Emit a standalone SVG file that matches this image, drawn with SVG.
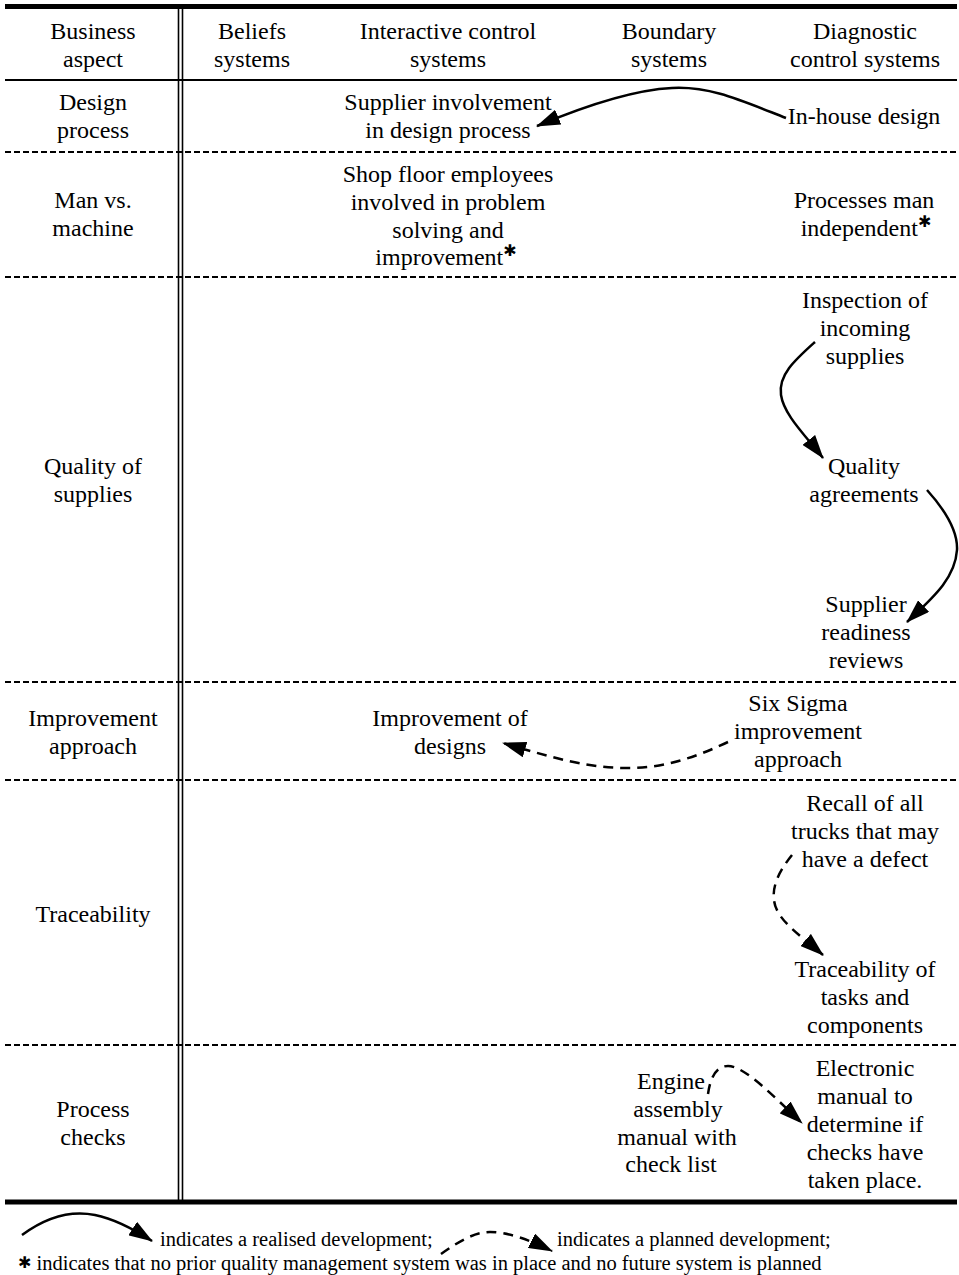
<svg xmlns="http://www.w3.org/2000/svg" width="959" height="1275" viewBox="0 0 959 1275">
  <style>
    .t { font-family: "Liberation Serif", "Times New Roman", serif; font-size: 24px; fill: #000; text-anchor: middle; }
    .f { font-family: "Liberation Serif", "Times New Roman", serif; font-size: 20.5px; fill: #000; }
    .star { font-family: "DejaVu Sans", sans-serif; font-size: 16px; font-weight: bold; }
    .rule { stroke: #000; fill: none; }
    .dash { stroke: #000; stroke-width: 2; stroke-dasharray: 6 3; fill: none; }
    .real { stroke: #000; stroke-width: 2.5; fill: none; marker-end: url(#ah); }
    .plan { stroke: #000; stroke-width: 2.5; fill: none; stroke-dasharray: 10 7; marker-end: url(#ah); }
  </style>
  <defs>
    <marker id="ah" viewBox="0 0 24 16" refX="23" refY="8" markerWidth="24" markerHeight="16" orient="auto" markerUnits="userSpaceOnUse">
      <path d="M0,0 L24,8 L0,16 z" fill="#000"/>
    </marker>
  </defs>

  <rect width="959" height="1275" fill="#fff"/>

  <!-- table rules -->
  <g id="grid">
    <line class="rule" x1="5" y1="6.5" x2="957" y2="6.5" stroke-width="5"/>
    <line class="rule" x1="5" y1="80" x2="957" y2="80" stroke-width="2"/>
    <line class="dash" x1="5" y1="152" x2="957" y2="152"/>
    <line class="dash" x1="5" y1="277" x2="957" y2="277"/>
    <line class="dash" x1="5" y1="682" x2="957" y2="682"/>
    <line class="dash" x1="5" y1="780" x2="957" y2="780"/>
    <line class="dash" x1="5" y1="1045" x2="957" y2="1045"/>
    <line class="rule" x1="178.5" y1="6" x2="178.5" y2="1202" stroke-width="1.6"/>
    <line class="rule" x1="182.5" y1="6" x2="182.5" y2="1202" stroke-width="1.6"/>
    <line class="rule" x1="5" y1="1202" x2="957" y2="1202" stroke-width="5"/>
  </g>

  <!-- column headings -->
  <g id="header">
    <text class="t" x="93" y="39">Business</text>
    <text class="t" x="93" y="67">aspect</text>
    <text class="t" x="252" y="39">Beliefs</text>
    <text class="t" x="252" y="67">systems</text>
    <text class="t" x="448" y="39">Interactive control</text>
    <text class="t" x="448" y="67">systems</text>
    <text class="t" x="669" y="39">Boundary</text>
    <text class="t" x="669" y="67">systems</text>
    <text class="t" x="865" y="39">Diagnostic</text>
    <text class="t" x="865" y="67">control systems</text>
  </g>

  <!-- row labels -->
  <g id="aspects">
    <text class="t" x="93" y="110">Design</text>
    <text class="t" x="93" y="138">process</text>
    <text class="t" x="93" y="208">Man vs.</text>
    <text class="t" x="93" y="236">machine</text>
    <text class="t" x="93" y="474">Quality of</text>
    <text class="t" x="93" y="502">supplies</text>
    <text class="t" x="93" y="726">Improvement</text>
    <text class="t" x="93" y="754">approach</text>
    <text class="t" x="93" y="922">Traceability</text>
    <text class="t" x="93" y="1117">Process</text>
    <text class="t" x="93" y="1145">checks</text>
  </g>

  <!-- design process -->
  <g id="supplier-involvement">
    <text class="t" x="448" y="110">Supplier involvement</text>
    <text class="t" x="448" y="138">in design process</text>
  </g>
  <g id="in-house-design">
    <text class="t" x="864" y="124">In-house design</text>
  </g>

  <!-- man vs. machine -->
  <g id="shop-floor">
    <text class="t" x="448" y="182">Shop floor employees</text>
    <text class="t" x="448" y="210">involved in problem</text>
    <text class="t" x="448" y="238">solving and</text>
    <text class="t" x="446" y="265">improvement<tspan class="star" dy="-9">✱</tspan></text>
  </g>
  <g id="man-independent">
    <text class="t" x="864" y="208">Processes man</text>
    <text class="t" x="866" y="236">independent<tspan class="star" dy="-9">✱</tspan></text>
  </g>

  <!-- quality of supplies -->
  <g id="inspection">
    <text class="t" x="865" y="308">Inspection of</text>
    <text class="t" x="865" y="336">incoming</text>
    <text class="t" x="865" y="364">supplies</text>
  </g>
  <g id="quality-agreements">
    <text class="t" x="864" y="474">Quality</text>
    <text class="t" x="864" y="502">agreements</text>
  </g>
  <g id="readiness-reviews">
    <text class="t" x="866" y="612">Supplier</text>
    <text class="t" x="866" y="640">readiness</text>
    <text class="t" x="866" y="668">reviews</text>
  </g>

  <!-- improvement approach -->
  <g id="design-improvement">
    <text class="t" x="450" y="726">Improvement of</text>
    <text class="t" x="450" y="754">designs</text>
  </g>
  <g id="six-sigma">
    <text class="t" x="798" y="711">Six Sigma</text>
    <text class="t" x="798" y="739">improvement</text>
    <text class="t" x="798" y="767">approach</text>
  </g>

  <!-- traceability -->
  <g id="recall">
    <text class="t" x="865" y="811">Recall of all</text>
    <text class="t" x="865" y="839">trucks that may</text>
    <text class="t" x="865" y="867">have a defect</text>
  </g>
  <g id="traceability-tasks">
    <text class="t" x="865" y="977">Traceability of</text>
    <text class="t" x="865" y="1005">tasks and</text>
    <text class="t" x="865" y="1033">components</text>
  </g>

  <!-- process checks -->
  <g id="engine-manual">
    <text class="t" x="671" y="1089">Engine</text>
    <text class="t" x="678" y="1117">assembly</text>
    <text class="t" x="677" y="1145">manual with</text>
    <text class="t" x="671" y="1172">check list</text>
  </g>
  <g id="electronic-manual">
    <text class="t" x="865" y="1076">Electronic</text>
    <text class="t" x="865" y="1104">manual to</text>
    <text class="t" x="865" y="1132">determine if</text>
    <text class="t" x="865" y="1160">checks have</text>
    <text class="t" x="865" y="1188">taken place.</text>
  </g>

  <!-- developments -->
  <g id="connectors">
    <path class="real" d="M786,118 C 740,100 710,86 672,88 C 630,90 580,108 537,126"/>
    <path class="real" d="M815,342 C 795,360 778,375 781,395 C 784,415 805,435 823,458"/>
    <path class="real" d="M927,490 C 945,510 958,530 957,550 C 955,580 930,600 907,622"/>
    <path class="plan" d="M728,742 C 690,760 660,768 628,768 C 590,768 560,760 503,743"/>
    <path class="plan" d="M792,855 C 780,870 772,885 774,900 C 776,920 800,935 823,955"/>
    <path class="plan" d="M708,1094 C 710,1080 715,1066 728,1066 C 745,1066 775,1098 802,1123"/>
  </g>

  <!-- key -->
  <g id="legend">
    <path class="real" d="M22,1235 C 45,1218 70,1210 95,1215 C 115,1219 135,1230 152,1241"/>
    <text class="f" x="160" y="1246">indicates a realised development;</text>
    <path class="plan" d="M441,1254 C 458,1242 474,1232 490,1232 C 508,1232 530,1240 552,1251"/>
    <text class="f" x="557" y="1246">indicates a planned development;</text>
    <text class="f" x="18" y="1270"><tspan class="star" font-size="20px" dy="-2">✱</tspan><tspan dy="2"> indicates that no prior quality management system was in place and no future system is planned</tspan></text>
  </g>
</svg>
